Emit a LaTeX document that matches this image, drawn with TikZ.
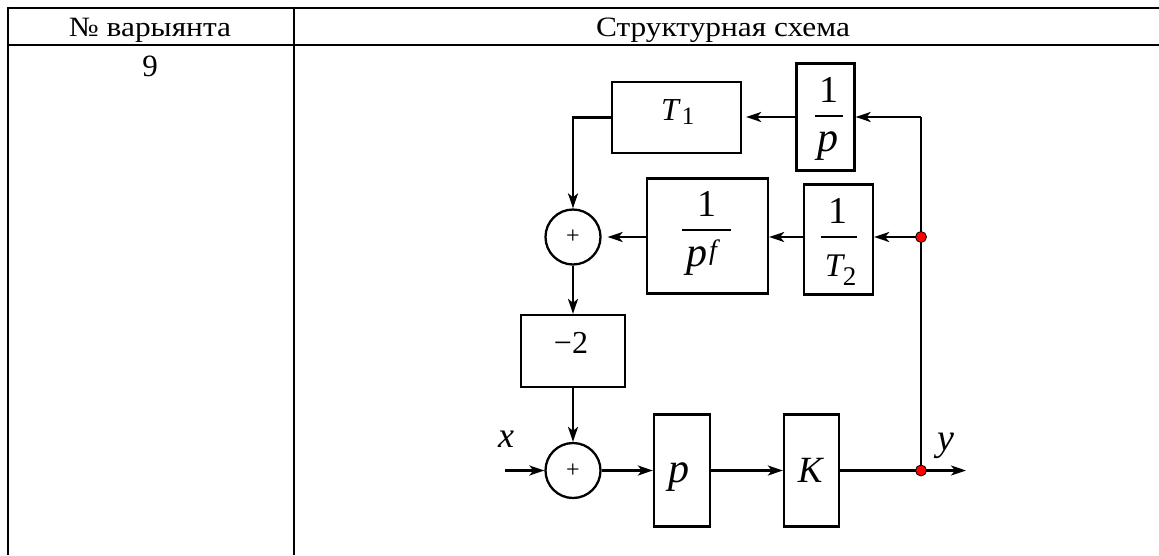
\documentclass[tikz,border=0pt]{standalone}
\usepackage{fontspec}
\setmainfont{Liberation Serif}
\newfontfamily\headfont[FakeStretch=1.12]{Liberation Serif}
\usetikzlibrary{arrows.meta}
\newcommand\fsz[1]{\fontsize{#1}{#1}\selectfont}

\begin{document}
\begin{tikzpicture}[x=1pt,y=-1pt,
  rule/.style={line width=2pt},
  blk/.style={draw, line width=2.3pt, rectangle, inner sep=0pt},
  sumnode/.style={draw, line width=2.3pt, circle, minimum size=55pt, inner sep=0pt, font=\fsz{24}},
  wire/.style={line width=2.3pt},
  sig/.style={wire, -{Stealth[length=15pt,width=10pt,inset=4pt]}},
  jdot/.style={circle, fill=red, draw=black, line width=0.8pt, minimum size=11pt, inner sep=0pt},
  lbl/.style={anchor=base, inner sep=0pt},
  bar/.style={line width=1.8pt},
  head/.style={lbl, font=\headfont\fsz{28}},
]
\useasboundingbox (0,0) rectangle (1159,555);

% table frame
\draw[rule] (7.5,7.5) -- (1159,7.5);
\draw[rule] (7.5,45) -- (1159,45);
\draw[rule] (7.5,6.5) -- (7.5,555);
\draw[rule] (293.5,6.5) -- (293.5,555);

% table texts
\node[head] (hnum) at (150,36.5) {№ варыянта};
\node[head] (hscheme) at (723,36.5) {Структурная схема};
\node[lbl, font=\fsz{31}] (vnum) at (150,76) {9};

% blocks
\node[blk, minimum width=129pt, minimum height=71pt] (T1) at (676.5,117.5) {};
\node[blk, minimum width=58pt, minimum height=107pt] (invp) at (825.5,117) {};
\node[blk, minimum width=121pt, minimum height=115pt] (invpf) at (707.5,236) {};
\node[blk, minimum width=69pt, minimum height=110pt] (invT2) at (838.5,239.5) {};
\node[blk, minimum width=104pt, minimum height=72pt] (gain2) at (573,351) {};
\node[blk, minimum width=56pt, minimum height=112pt] (diff) at (682,470.5) {};
\node[blk, minimum width=55pt, minimum height=112pt] (K) at (811.5,470.5) {};
\node[sumnode] (sum1) at (573,237) {+};
\node[sumnode] (sum2) at (573,470.5) {+};

% block contents
\node[lbl, font=\fsz{32}\itshape] (T1a) at (670,120) {T};
\node[lbl, font=\fsz{25}] (T1b) at (688,124) {1};

\node[lbl, font=\fsz{38}] (invpn) at (829,102.7) {1};
\draw[bar] (815,115.7) -- (843,115.7);
\node[lbl, font=\fsz{42}\itshape] (invpd) at (828,151) {p};

\node[lbl, font=\fsz{38}] (invpfn) at (706.7,216.7) {1};
\draw[bar] (682.3,230) -- (731.3,230);
\node[lbl, font=\fsz{42}\itshape] (invpfd) at (697,266) {p};
\node[anchor=base west, inner sep=0pt, font=\fsz{28}\itshape] (invpfe) at (709,259) {f};

\node[lbl, font=\fsz{38}] (invT2n) at (838.4,223.3) {1};
\draw[bar] (821,236.7) -- (857,236.7);
\node[lbl, font=\fsz{33}\itshape] (invT2d) at (834,276.7) {T};
\node[lbl, font=\fsz{27}] (invT2s) at (849.5,285) {2};

\node[lbl, font=\fsz{32}] (gain2t) at (571,353.3) {−2};
\node[lbl, font=\fsz{42}\itshape] (difft) at (679,482) {p};
\node[lbl, font=\fsz{37}\itshape] (Kt) at (810.3,482.7) {K};

% signal labels
\node[lbl, font=\fsz{36}\itshape] (xlab) at (506,447) {x};
\node[lbl, font=\fsz{38}\itshape] (ylab) at (946,450) {y};

% branch points and free ends
\coordinate (j1) at (921,237);
\coordinate (j2) at (921,470.5);
\coordinate (corner) at (921,117);
\coordinate (xin) at (505,470.5);
\coordinate (yout) at (966,470.5);

% connectors
\draw[wire] (j2) -- (corner);
\draw[sig] (corner) -- (invp.east);
\draw[sig, shorten >=4pt] (invp.west) -- (invp.west -| T1.east);
\draw[sig] (T1.west) -| (sum1.north);
\draw[sig] (j1) -- (j1 -| invT2.east);
\draw[sig] (invT2.west |- j1) -- (j1 -| invpf.east);
\draw[sig, shorten >=6pt] (invpf.west |- j1) -- (j1 -| sum1.east);
\draw[sig] (sum1.south) -- (gain2.north);
\draw[sig] (gain2.south) -- (sum2.north);
\draw[sig] (xin) -- (sum2.west);
\draw[sig] (sum2.east) -- (diff.west);
\draw[sig] (diff.east) -- (K.west);
\draw[wire] (K.east) -- (j2);
\draw[sig] (j2) -- (yout);

% branch dots on top of the wires
\node[jdot] (j1dot) at (j1) {};
\node[jdot] (j2dot) at (j2) {};
\end{tikzpicture}
\end{document}
